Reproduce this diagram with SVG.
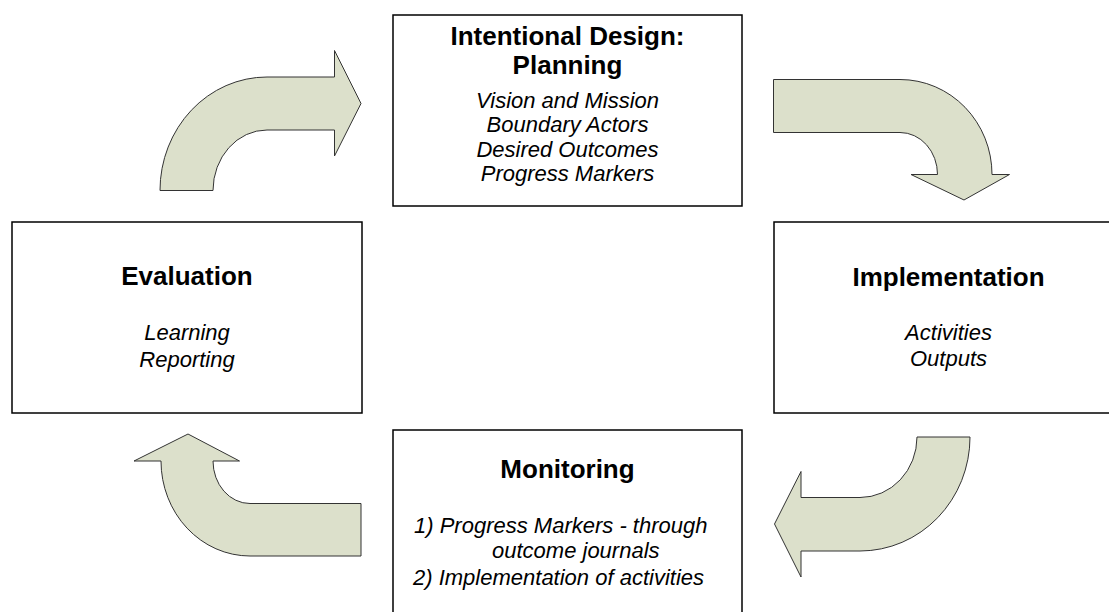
<svg xmlns="http://www.w3.org/2000/svg" width="1109" height="612" viewBox="0 0 1109 612">
<style>
.box{fill:#fff;stroke:#000;stroke-width:1.5}
.arr{fill:#DCE0CB;stroke:#333;stroke-width:1}
.t{font-family:"Liberation Sans",Arial,sans-serif;font-size:26px;font-weight:bold;fill:#000;text-anchor:middle}
.s{font-family:"Liberation Sans",Arial,sans-serif;font-size:22px;font-style:italic;fill:#000;text-anchor:middle}
.l{font-family:"Liberation Sans",Arial,sans-serif;font-size:22px;font-style:italic;fill:#000}
</style>
<rect width="1109" height="612" fill="#fff"/>
<g id="connectors">
<path class="arr" d="M160,190.5 A107,113.5 0 0 1 267,77 L334.5,77 L334.5,50.5 L361,103.5 L334.5,156 L334.5,130 L267,130 A54,60.5 0 0 0 213,190.5 Z"/>
<path class="arr" d="M773.5,79.5 L900,79.5 A92,95 0 0 1 992,174.5 L1009.5,174.5 L964,200 L911,174.5 L937.5,174.5 A37.5,42 0 0 0 900,132.5 L773.5,132.5 Z"/>
<path class="arr" d="M970,437 A110,114 0 0 1 860,551 L801,551 L801,577 L774.5,524 L801,471.5 L801,497.5 L860,497.5 A57,60.5 0 0 0 917,437 Z"/>
<path class="arr" d="M361,503.5 L250,503.5 A37,42.5 0 0 1 213,461 L239.5,461 L188,434 L134,461 L161,461 A89,95 0 0 0 250,556 L361,556 Z"/>
</g>
<g id="planning">
<rect class="box" x="393" y="15" width="349" height="191"/>
<text class="t" x="567.5" y="45">Intentional Design:</text>
<text class="t" x="567.5" y="74">Planning</text>
<text class="s" x="567.5" y="108">Vision and Mission</text>
<text class="s" x="567.5" y="132">Boundary Actors</text>
<text class="s" x="567.5" y="157">Desired Outcomes</text>
<text class="s" x="567.5" y="181">Progress Markers</text>
</g>
<g id="implementation">
<rect class="box" x="774" y="222" width="349" height="191"/>
<text class="t" x="948.5" y="286">Implementation</text>
<text class="s" x="948.5" y="340">Activities</text>
<text class="s" x="948.5" y="366">Outputs</text>
</g>
<g id="monitoring">
<rect class="box" x="393" y="430" width="349" height="191"/>
<text class="t" x="567.5" y="478">Monitoring</text>
<text class="l" x="414" y="533">1) Progress Markers - through</text>
<text class="l" x="492" y="558">outcome journals</text>
<text class="l" x="413" y="585">2) Implementation of activities</text>
</g>
<g id="evaluation">
<rect class="box" x="12" y="222" width="350" height="191"/>
<text class="t" x="187" y="285">Evaluation</text>
<text class="s" x="187" y="340">Learning</text>
<text class="s" x="187" y="367">Reporting</text>
</g>
</svg>
